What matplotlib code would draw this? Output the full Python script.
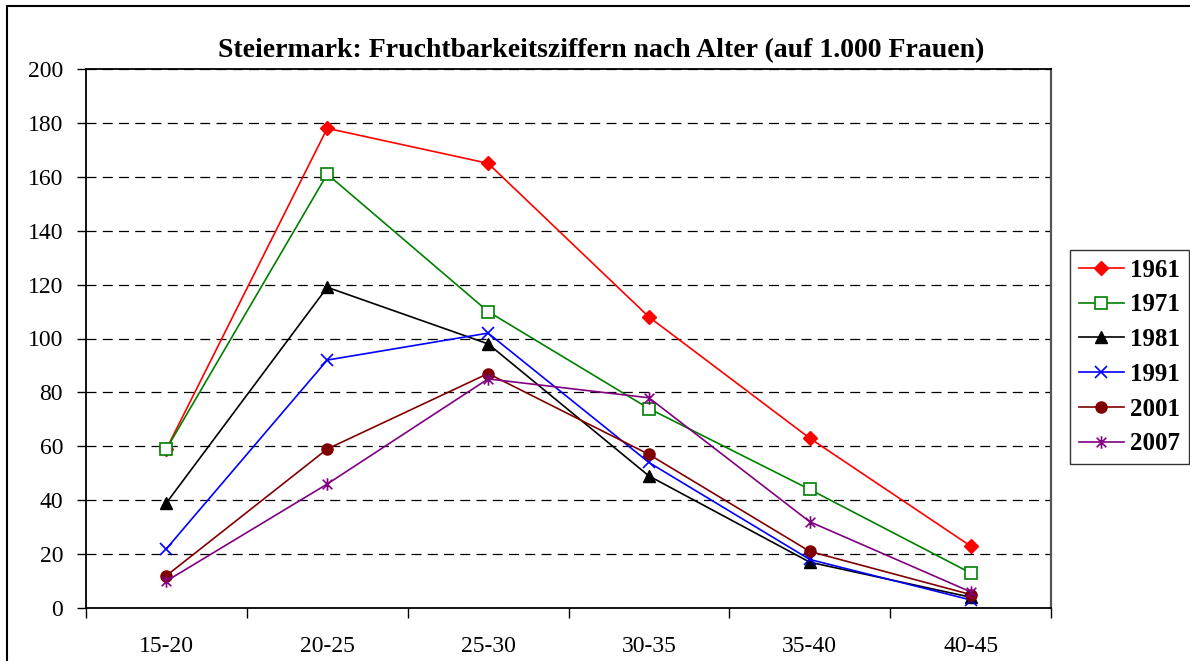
import matplotlib.pyplot as plt
from matplotlib.path import Path
from matplotlib.patches import Rectangle

ages = ['15-20', '20-25', '25-30', '30-35', '35-40', '40-45']
years = ['1961', '1971', '1981', '1991', '2001', '2007']
v1961 = [59, 178, 165, 108, 63, 23]
v1971 = [59, 161, 110, 74, 44, 13]
v1981 = [39, 119, 98, 49, 17, 4]
v1991 = [22, 92, 102, 54, 18, 3]
v2001 = [12, 59, 87, 57, 21, 5]
v2007 = [10, 46, 85, 78, 32, 6]

# Excel-Stern: x mit senkrechtem Strich
star = Path([(-1, -1), (1, 1), (-1, 1), (1, -1), (0, -1.3), (0, 1.3)],
            [Path.MOVETO, Path.LINETO, Path.MOVETO, Path.LINETO, Path.MOVETO, Path.LINETO])

styles = [
    (v1961, '#ff0000', dict(marker='D', ms=7, mfc='#ff0000', mec='#ff0000')),
    (v1971, '#008000', dict(marker='s', ms=8, mfc='white', mec='#008000', mew=1.2)),
    (v1981, '#000000', dict(marker='^', ms=9, mfc='black', mec='black')),
    (v1991, '#0000ff', dict(marker='x', ms=9, mec='#0000ff', mew=1.2)),
    (v2001, '#800000', dict(marker='o', ms=8, mfc='#800000', mec='#800000')),
    (v2007, '#800080', dict(marker=star, ms=9, mec='#800080', mew=1.2)),
]

plt.rcParams['font.family'] = 'Liberation Serif'

fig = plt.figure(figsize=(11.9, 6.61), dpi=100)
ax = fig.add_axes([86 / 1190, 1 - 608 / 661, (1051 - 86) / 1190, (608 - 69) / 661])

x = range(len(ages))
for (vals, col, mk), yr in zip(styles, years):
    ax.plot(x, vals, color=col, lw=1.2, label=yr, **mk)

ax.set_xlim(-0.5, len(ages) - 0.5)
ax.set_ylim(0, 200)
ax.set_yticks(range(0, 201, 20))
ax.set_xticks(list(x))
ax.set_xticklabels(ages)
ax.set_xticks([i - 0.5 for i in range(len(ages) + 1)], minor=True)
ax.tick_params(axis='x', which='major', length=0, pad=20, labelsize=17)
ax.tick_params(axis='x', which='minor', length=7, width=1, direction='out')
ax.tick_params(axis='y', length=6.5, width=1, direction='out', labelsize=17, pad=10)
ax.grid(axis='y', color='black', linestyle=(0, (8, 5)), linewidth=0.9)
ax.set_axisbelow(True)
for s in ax.spines.values():
    s.set_linewidth(1.3)
    s.set_color('black')
ax.spines['right'].set_color('#555555')
ax.spines['right'].set_linewidth(1.6)

fig.text(218 / 1190, 1 - 57 / 661, 'Steiermark: Fruchtbarkeitsziffern nach Alter (auf 1.000 Frauen)',
         ha='left', va='baseline', fontsize=20, fontweight='bold')

leg = ax.legend(loc='center left', bbox_to_anchor=(1070 / 1190, 1 - 357 / 661),
                bbox_transform=fig.transFigure, frameon=True, fancybox=False,
                prop={'weight': 'bold', 'size': 18}, handlelength=1.8,
                labelspacing=0.47, borderpad=0.35, handletextpad=0.25, borderaxespad=0)
leg.get_frame().set_edgecolor('black')
leg.get_frame().set_linewidth(1.0)

fig.patches.append(Rectangle((7 / 1190, -0.1), 1.2, 1 - 6 / 661 + 0.1, transform=fig.transFigure,
                             fill=False, edgecolor='black', linewidth=1.5))

fig.savefig('out.png', dpi=100)
